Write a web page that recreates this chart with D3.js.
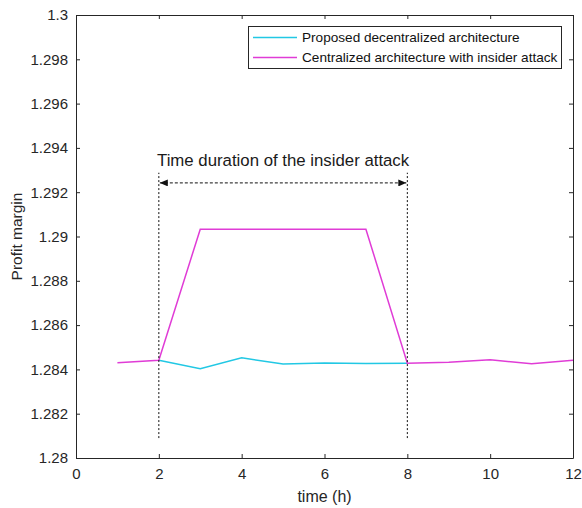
<!DOCTYPE html>
<html>
<head>
<meta charset="utf-8">
<script src="https://cdn.jsdelivr.net/npm/d3@7"></script>
<style>
  html, body { margin: 0; padding: 0; background: #fff; }
  svg { display: block; font-family: "Liberation Sans", Arial, Helvetica, sans-serif; }
</style>
</head>
<body>
<svg id="chart" width="582" height="508"></svg>
<script>
// Hourly profit margin for the two architectures
const hoursDecentralized = [2, 3, 4, 5, 6, 7, 8];
const marginDecentralized = [1.28441, 1.28403, 1.28452, 1.28424, 1.28429, 1.28427, 1.28428];

const hoursCentralized = [1, 2, 3, 4, 5, 6, 7, 8, 9, 10, 11, 12];
const marginCentralized = [1.28430, 1.28441, 1.29033, 1.29033, 1.29033, 1.29033, 1.29033,
                           1.28428, 1.28432, 1.28443, 1.28426, 1.28441];

const seriesNames = ["Proposed decentralized architecture", "Centralized architecture with insider attack"];
const seriesColors = ["#22c8e4", "#e03cd6"];

const xTicks = [0, 2, 4, 6, 8, 10, 12];
const yTicks = [1.28, 1.282, 1.284, 1.286, 1.288, 1.29, 1.292, 1.294, 1.296, 1.298, 1.3];

// Attack window annotation
const attackStart = 2, attackEnd = 8;
const attackLabel = "Time duration of the insider attack";
const attackGuideRange = [1.2809, 1.29288];
const attackArrowLevel = 1.29242;

const svg = d3.select("#chart");
const margin = { left: 76, right: 9, top: 15, bottom: 50 };
const W = 582, H = 508;

const x = d3.scaleLinear().domain([0, 12]).range([margin.left, W - margin.right]);
const y = d3.scaleLinear().domain([1.28, 1.3]).range([H - margin.bottom, margin.top]);

const axisColor = "#262626";
const tickFmt = d => String(+d.toFixed(3));

// Axes with inward ticks (bottom/left labelled, top/right bare)
const gx = svg.append("g").attr("transform", `translate(0,${y(1.28)})`)
  .call(d3.axisBottom(x).tickValues(xTicks).tickFormat(tickFmt).tickSizeInner(-4).tickSizeOuter(0).tickPadding(10));
const gy = svg.append("g").attr("transform", `translate(${x(0)},0)`)
  .call(d3.axisLeft(y).tickValues(yTicks).tickFormat(tickFmt).tickSizeInner(-4).tickSizeOuter(0).tickPadding(8));
const gt = svg.append("g").attr("transform", `translate(0,${y(1.3)})`)
  .call(d3.axisTop(x).tickValues(xTicks).tickFormat("").tickSizeInner(-4).tickSizeOuter(0));
const gr = svg.append("g").attr("transform", `translate(${x(12)},0)`)
  .call(d3.axisRight(y).tickValues(yTicks).tickFormat("").tickSizeInner(-4).tickSizeOuter(0));

[gx, gy, gt, gr].forEach(g => {
  g.select(".domain").attr("stroke", axisColor).attr("stroke-width", 1);
  g.selectAll(".tick line").attr("stroke", axisColor);
  g.selectAll(".tick text").attr("fill", axisColor).attr("font-size", 15)
    .attr("font-family", '"Liberation Sans", Arial, sans-serif');
});

// Axis titles
svg.append("text")
  .attr("x", (x(0) + x(12)) / 2).attr("y", 502)
  .attr("text-anchor", "middle").attr("font-size", 16).attr("fill", axisColor)
  .text("time (h)");
svg.append("text")
  .attr("transform", `translate(22,${(y(1.28) + y(1.3)) / 2}) rotate(-90)`)
  .attr("text-anchor", "middle").attr("font-size", 15.5).attr("fill", axisColor)
  .text("Profit margin");

// Series lines
const line = d3.line().x(d => x(d[0])).y(d => y(d[1]));
svg.append("path")
  .datum(hoursDecentralized.map((h, i) => [h, marginDecentralized[i]]))
  .attr("d", line).attr("fill", "none").attr("stroke", seriesColors[0]).attr("stroke-width", 1.5);
svg.append("path")
  .datum(hoursCentralized.map((h, i) => [h, marginCentralized[i]]))
  .attr("d", line).attr("fill", "none").attr("stroke", seriesColors[1]).attr("stroke-width", 1.5);

// Attack window: dotted guides, double-headed arrow and caption
const defs = svg.append("defs");
[["arrowEnd", "M0,0 L8,3.5 L0,7 Z", 8], ["arrowStart", "M8,0 L0,3.5 L8,7 Z", 0]].forEach(([id, p, rx]) => {
  defs.append("marker").attr("id", id).attr("markerWidth", 8).attr("markerHeight", 7)
    .attr("refX", rx).attr("refY", 3.5).attr("orient", "0").attr("markerUnits", "userSpaceOnUse")
    .append("path").attr("d", p).attr("fill", "#111");
});
[attackStart, attackEnd].forEach(t => {
  svg.append("line")
    .attr("x1", x(t)).attr("x2", x(t))
    .attr("y1", y(attackGuideRange[0])).attr("y2", y(attackGuideRange[1]))
    .attr("stroke", "#111").attr("stroke-width", 1).attr("stroke-dasharray", "2,2");
});
svg.append("line")
  .attr("x1", x(attackStart) + 1).attr("x2", x(attackEnd) - 1)
  .attr("y1", y(attackArrowLevel)).attr("y2", y(attackArrowLevel))
  .attr("stroke", "#111").attr("stroke-width", 1).attr("stroke-dasharray", "3,2")
  .attr("marker-start", "url(#arrowStart)").attr("marker-end", "url(#arrowEnd)");
svg.append("text")
  .attr("x", (x(attackStart) + x(attackEnd)) / 2).attr("y", 166)
  .attr("text-anchor", "middle").attr("font-size", 16.8).attr("fill", "#1a1a1a")
  .text(attackLabel);

// Legend
const lg = svg.append("g");
lg.append("rect").attr("x", 248.5).attr("y", 26.5).attr("width", 313).attr("height", 42)
  .attr("fill", "#fff").attr("stroke", axisColor).attr("stroke-width", 1);
seriesNames.forEach((name, i) => {
  const cy = 37.5 + i * 20;
  lg.append("line").attr("x1", 253).attr("x2", 297).attr("y1", cy).attr("y2", cy)
    .attr("stroke", seriesColors[i]).attr("stroke-width", 1.5);
  lg.append("text").attr("x", 302).attr("y", cy + 4.8).attr("font-size", 13.6).attr("fill", "#111")
    .text(name);
});
</script>
</body>
</html>
